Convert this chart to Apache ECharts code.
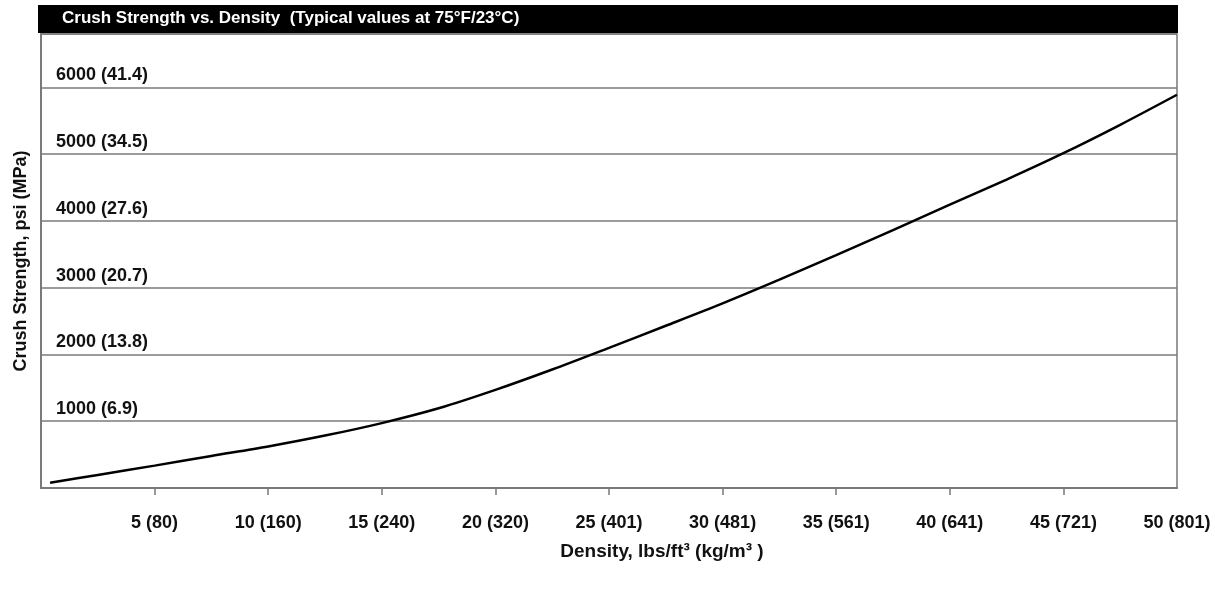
<!DOCTYPE html>
<html>
<head>
<meta charset="utf-8">
<title>Crush Strength vs. Density</title>
<script src="https://cdn.jsdelivr.net/npm/echarts@6/dist/echarts.min.js"></script>
<style>
  html, body { margin: 0; padding: 0; background: #fff; }
  #chart { width: 1215px; height: 594px; }
</style>
</head>
<body>
<div id="chart"></div>
<script type="text/javascript">
// density (lbs/ft3) on x, crush strength (psi) on y
var densityValues = [0.4, 2.5, 5, 7.5, 10, 12.5, 15, 17.5, 20, 22.5, 25, 27.5, 30, 32.5, 35, 37.5, 40, 42.5, 45, 47.5, 50];
var strengthValues = [80, 195, 335, 480, 622, 785, 972, 1194, 1470, 1775, 2100, 2430, 2765, 3120, 3488, 3863, 4243, 4620, 5015, 5440, 5890];

// tick labels
var xTickValues = [5, 10, 15, 20, 25, 30, 35, 40, 45, 50];
var xTickLabels = ["5 (80)", "10 (160)", "15 (240)", "20 (320)", "25 (401)", "30 (481)", "35 (561)", "40 (641)", "45 (721)", "50 (801)"];
var yTickValues = [1000, 2000, 3000, 4000, 5000, 6000];
var yTickLabels = ["1000 (6.9)", "2000 (13.8)", "3000 (20.7)", "4000 (27.6)", "5000 (34.5)", "6000 (41.4)"];

var titleText = "Crush Strength vs. Density  (Typical values at 75\u00b0F/23\u00b0C)";
var xName = "Density, lbs/ft\u00b3 (kg/m\u00b3 )";
var yName = "Crush Strength, psi (MPa)";

var FONT = "'Liberation Sans Narrow', 'Liberation Sans', Arial, sans-serif";

var myChart = echarts.init(document.getElementById("chart"), null, { renderer: "canvas" });

var points = [];
for (var i = 0; i < densityValues.length; i++) {
  points.push([densityValues[i], strengthValues[i]]);
}

var option = {
  backgroundColor: "#ffffff",
  animation: false,
  title: {
    text: titleText,
    left: 62,
    top: 10,
    padding: 0,
    textStyle: { color: "#ffffff", fontFamily: FONT, fontWeight: "bold", fontSize: 17 }
  },
  graphic: [
    {
      // black title bar over the top of the plot
      type: "rect",
      left: 38,
      top: 5,
      z: -1,
      shape: { width: 1140, height: 28 },
      style: { fill: "#000000" }
    }
  ],
  grid: {
    left: 41,
    right: 38,
    top: 34,
    bottom: 106,
    outerBoundsMode: "none",
    containLabel: false,
    show: true,
    borderColor: "#7a7a7a",
    borderWidth: 1.5,
    backgroundColor: "transparent"
  },
  xAxis: {
    type: "value",
    min: 0,
    max: 50,
    interval: 5,
    name: xName,
    nameLocation: "middle",
    nameGap: 54,
    nameTextStyle: { color: "#111", fontFamily: FONT, fontWeight: "bold", fontSize: 19, padding: [0, 0, 0, 106] },
    axisLine: { show: true, lineStyle: { color: "#7a7a7a", width: 2 } },
    axisTick: { show: true, length: 7, customValues: xTickValues.slice(0, 9), lineStyle: { color: "#7a7a7a", width: 1.5 } },
    splitLine: { show: false },
    axisLabel: {
      margin: 26,
      color: "#111",
      fontFamily: FONT,
      fontWeight: "bold",
      fontSize: 18,
      formatter: function (v) {
        var k = xTickValues.indexOf(v);
        return k >= 0 ? xTickLabels[k] : "";
      }
    }
  },
  yAxis: {
    type: "value",
    min: 0,
    max: 6800,
    interval: 1000,
    name: yName,
    nameLocation: "middle",
    nameGap: 11,
    nameTextStyle: { color: "#111", fontFamily: FONT, fontWeight: "bold", fontSize: 18 },
    axisLine: { show: true, lineStyle: { color: "#7a7a7a", width: 2 } },
    axisTick: { show: false },
    splitLine: { show: true, lineStyle: { color: "#7a7a7a", width: 1.5 } },
    axisLabel: {
      inside: true,
      margin: 15,
      verticalAlign: "bottom",
      padding: [0, 0, 3, 0],
      color: "#111",
      fontFamily: FONT,
      fontWeight: "bold",
      fontSize: 18,
      formatter: function (v) {
        var k = yTickValues.indexOf(v);
        return k >= 0 ? yTickLabels[k] : "";
      }
    }
  },
  series: [
    {
      type: "line",
      data: points,
      smooth: 0.3,
      showSymbol: false,
      lineStyle: { color: "#000000", width: 2.5 }
    }
  ]
};
myChart.setOption(option);
</script>
</body>
</html>
